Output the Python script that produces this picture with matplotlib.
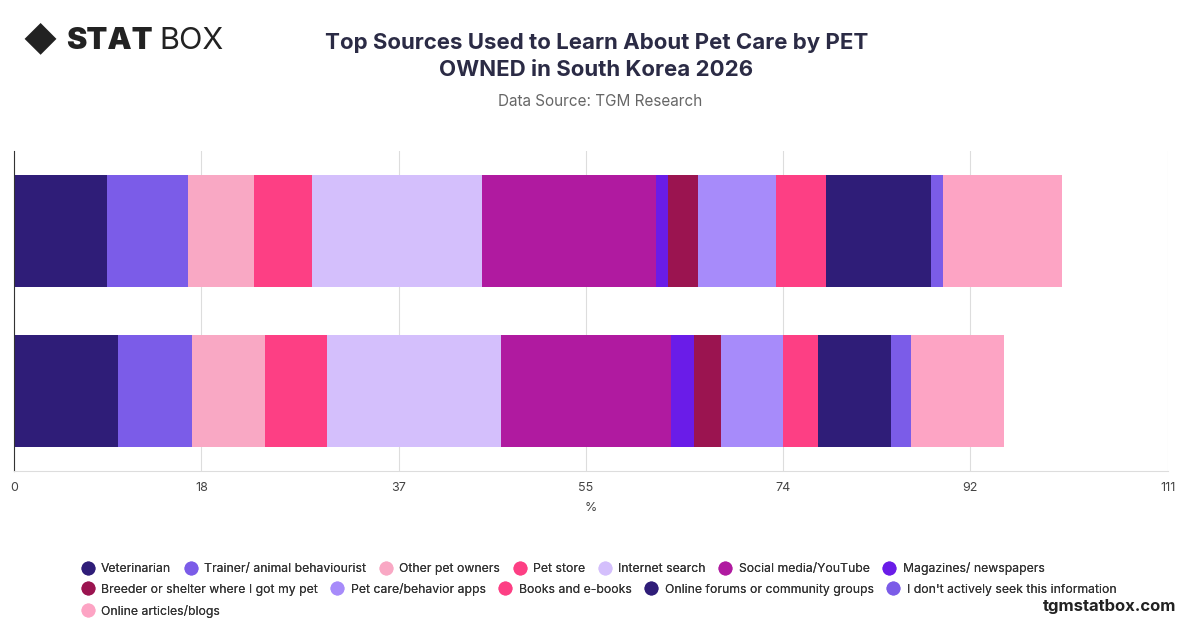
import matplotlib.pyplot as plt
from matplotlib.lines import Line2D
import numpy as np

plt.rcParams['font.family'] = ['Inter', 'DejaVu Sans']

pets = ['Cat', 'Dog']
sources = ['Veterinarian', 'Trainer/ animal behaviourist', 'Other pet owners', 'Pet store',
           'Internet search', 'Social media/YouTube', 'Magazines/ newspapers',
           'Breeder or shelter where I got my pet', 'Pet care/behavior apps', 'Books and e-books',
           'Online forums or community groups', "I don't actively seek this information",
           'Online articles/blogs']
top_bar = [8.95, 7.79, 6.35, 5.58, 16.35, 16.74, 1.15, 2.89, 7.5, 4.81, 10.1, 1.15, 11.45]
bottom_bar = [10.0, 7.12, 7.02, 5.96, 16.74, 16.35, 2.21, 2.6, 5.96, 3.37, 7.02, 1.92, 8.95]
colors = ['#2f1d78', '#7b5ce8', '#f9a8c4', '#fd3f84', '#d4bffc', '#b01aa0', '#6a1ce8',
          '#9b1450', '#a78bfa', '#fd3f84', '#2f1d78', '#7b5ce8', '#fda4c4']
ticks = [0, 18, 37, 55, 74, 92, 111]

fig = plt.figure(figsize=(12, 6.28), dpi=100)
ax = fig.add_axes([0.012, 0.25, 0.961, 0.51])

left = np.zeros(2)
vals = np.array([bottom_bar, top_bar])
for i, name in enumerate(sources):
    ax.barh([0, 1], vals[:, i], left=left, height=0.7, color=colors[i], label=name)
    left += vals[:, i]

ax.set_xlim(0, 111)
ax.set_ylim(-0.5, 1.5)
ax.set_xticks(ticks)
ax.set_xticklabels([str(t) for t in ticks], fontsize=9, color='#444444')
ax.set_yticks([])
ax.grid(axis='x', color='#dddddd', lw=0.8)
ax.set_axisbelow(True)
for s in ['top', 'right']:
    ax.spines[s].set_visible(False)
ax.spines['left'].set_color('#333333')
ax.spines['bottom'].set_color('#dddddd')
ax.tick_params(axis='x', length=0, pad=8)
ax.set_xlabel('%', fontsize=9, color='#444444', labelpad=6)

fig.text(0.497, 0.91, 'Top Sources Used to Learn About Pet Care by PET\nOWNED in South Korea 2026',
         ha='center', va='center', fontsize=16, fontweight='bold', color='#2b2b45', linespacing=1.4)
fig.text(0.5, 0.838, 'Data Source: TGM Research', ha='center', va='center', fontsize=11, color='#666666')
fig.text(0.055, 0.935, 'STAT', ha='left', va='center', fontsize=22, fontweight='black', color='#222222')
fig.text(0.133, 0.935, 'BOX', ha='left', va='center', fontsize=22, color='#222222')
fig.text(0.033, 0.935, '◆', ha='center', va='center', fontsize=24, color='#222222')
fig.text(0.98, 0.035, 'tgmstatbox.com', ha='right', va='center', fontsize=12, fontweight='bold', color='#222222')

rows = [range(0, 7), range(7, 12), range(12, 13)]
ys = [0.095, 0.062, 0.027]
for idx, y in zip(rows, ys):
    hs = [Line2D([], [], ls='', marker='o', ms=9, color=colors[i]) for i in idx]
    leg = fig.legend(hs, [sources[i] for i in idx], loc='center left', bbox_to_anchor=(0.067, y),
                     ncol=len(idx), frameon=False, fontsize=8.8, handletextpad=0.5,
                     columnspacing=1.0, labelcolor='#333333', borderaxespad=0, borderpad=0,
                     handlelength=1.2)
    fig.add_artist(leg)
fig.savefig('out.png', dpi=100)
